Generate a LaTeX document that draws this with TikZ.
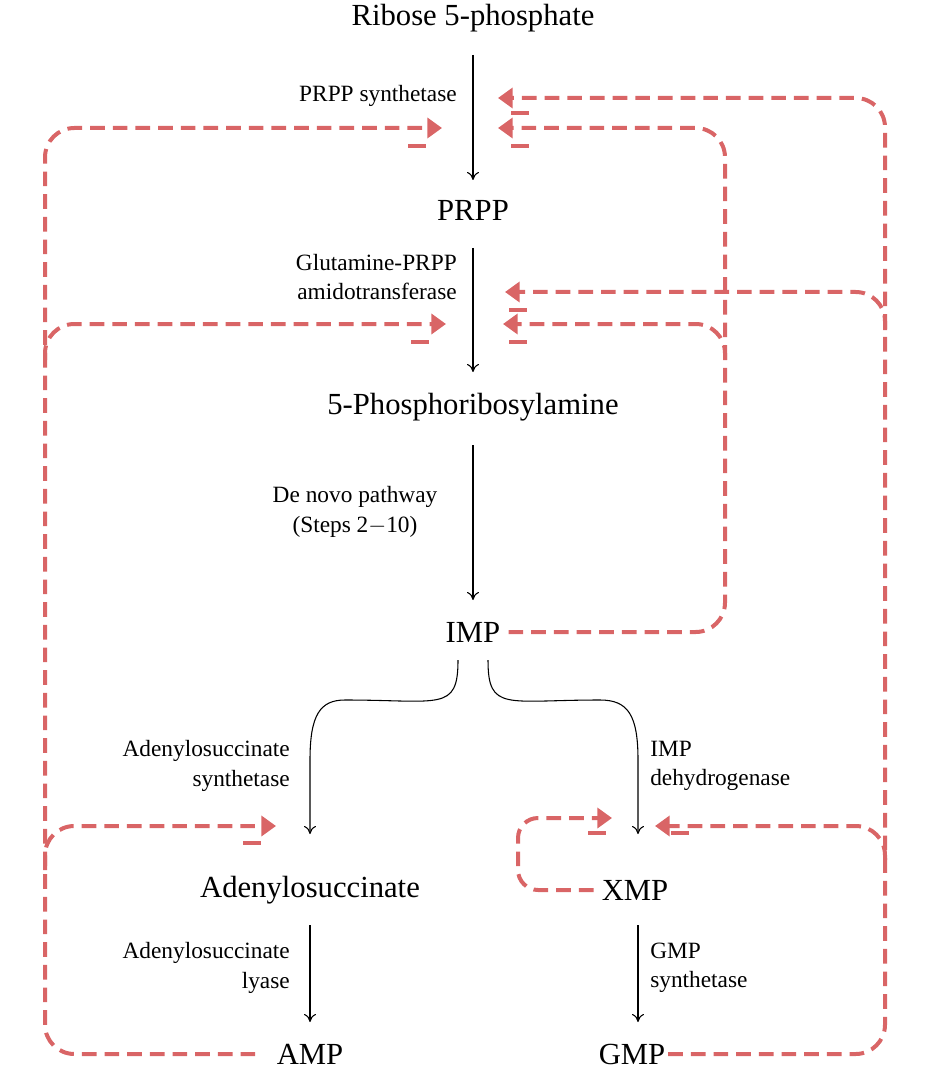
\documentclass[tikz,border=0pt]{standalone}
\usepackage{fontspec}
\setmainfont{Liberation Serif}
\usetikzlibrary{arrows.meta}

\definecolor{inhibit}{HTML}{D96566}

\begin{document}
\begin{tikzpicture}[x=0.75pt, y=-0.75pt]

\tikzstyle{metabolite} = [font=\fontsize{23}{26}\selectfont, inner sep=2pt]
\tikzstyle{enzyme} = [font=\fontsize{17.5}{22}\selectfont, align=right, inner sep=0pt]
\tikzstyle{reaction} = [line width=.8pt, -{To[length=6pt, width=9pt]}]
\tikzstyle{feedback} = [line width=3pt, color=inhibit, dash pattern=on 11pt off 6pt, rounded corners=22pt]
\tikzstyle{feedback arrow} = [feedback, -{Triangle[length=11pt, width=15pt]}]
\tikzstyle{minus} = [line width=3pt, color=inhibit]

\useasboundingbox (0, 0) rectangle (925, 1080);

% metabolites

\node [metabolite] (ribose) at (473, 18) {Ribose 5-phosphate};
\node [metabolite] (prpp) at (473, 210) {PRPP};
\node [metabolite] (pra) at (473, 407) {5-Phosphoribosylamine};
\node [metabolite] (imp) at (473, 632) {IMP};
\node [metabolite] (succ) at (310, 890) {Adenylosuccinate};
\node [metabolite] (xmp) at (635, 890) {XMP};
\node [metabolite] (amp) at (310, 1054) {AMP};
\node [metabolite] (gmp) at (632, 1054) {GMP};

% reactions

\draw [reaction] (473, 55) -- (473, 180);
\draw [reaction] (473, 248) -- (473, 372);
\draw [reaction] (473, 445) -- (473, 600);
\draw [reaction] (458, 660) .. controls (458, 712) and (440, 700) .. (345, 700)
	.. controls (320, 700) and (310, 715) .. (310, 760) -- (310, 834);
\draw [reaction] (488, 660) .. controls (488, 712) and (506, 700) .. (600, 700)
	.. controls (628, 700) and (638, 715) .. (638, 760) -- (638, 834);
\draw [reaction] (310, 925) -- (310, 1022);
\draw [reaction] (638, 925) -- (638, 1022);

% enzymes

\node [enzyme, anchor=east] (prs) at (457, 96) {PRPP synthetase};
\node [enzyme, anchor=east] (gpat) at (457, 277) {Glutamine-PRPP\\amidotransferase};
\node [enzyme, align=center] (denovo) at (355, 512) {De novo pathway\\(Steps 2$-$10)};
\node [enzyme, anchor=east] (adss) at (290, 766) {Adenylosuccinate\\synthetase};
\node [enzyme, anchor=west, align=left] (impdh) at (650, 766) {IMP\\dehydrogenase};
\node [enzyme, anchor=east] (adsl) at (290, 968) {Adenylosuccinate\\lyase};
\node [enzyme, anchor=west, align=left] (gmps) at (650, 968) {GMP\\synthetase};

% feedback from AMP

\draw [feedback arrow, shorten <=14pt] (amp.west) -| (45, 128) -- (442, 128);
\draw [feedback arrow] (45, 360) |- (446, 324);
\draw [feedback arrow] (45, 870) |- (276, 826);

% feedback from IMP

\draw [feedback arrow, shorten <=4pt] (imp.east) -| (725, 128) -- (498, 128);
\draw [feedback arrow] (725, 360) |- (503, 324);

% feedback from GMP

\draw [feedback arrow] (gmp.east) -| (885, 98) -- (498, 98);
\draw [feedback arrow] (885, 330) |- (505, 292);
\draw [feedback arrow] (885, 860) |- (655, 826);

% feedback from XMP

\draw [feedback arrow, rounded corners=15pt, shorten <=4pt] (xmp.west) -| (518, 818) -- (612, 818);

% inhibition marks

\foreach \xminus/\yminus in {417/146, 520/113, 520/146, 420/342, 518/310, 518/342, 252/843, 597/833, 680/833}
	\draw [minus] (\xminus - 9, \yminus) -- (\xminus + 9, \yminus);

\end{tikzpicture}
\end{document}
